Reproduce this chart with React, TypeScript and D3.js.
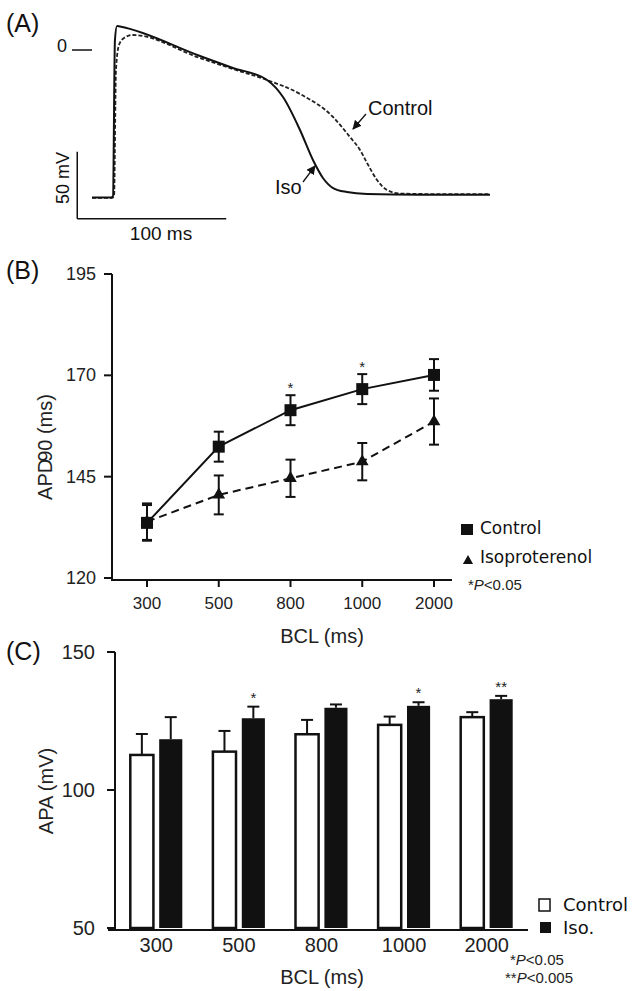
import React from "react";
import * as d3 from "d3";

// ---------- Panel A: action potential traces (time ms, voltage mV) ----------
const apTimeIso = [-14.1, -1.3, 0, 1.3, 2.7, 4.7, 58.4, 80.5, 103.4, 114.1, 125.5, 134.2, 140.9, 147.7, 157, 170.5, 206, 253];
const apVoltIso = [-110, -110, -109, 7.5, 17.9, 17.5, -4.5, -13.4, -22.4, -35.1, -59.7, -82.1, -95.5, -103, -106, -107.5, -108, -108];
const apTimeCtrl = [-14.1, -0.7, 0.7, 2, 4, 7.4, 13.4, 58.4, 80.5, 103.4, 125.5, 147.7, 159, 165.8, 170.5, 177.2, 183.9, 192.6, 212.8, 253];
const apVoltCtrl = [-110.4, -110.4, -109, -14.9, 3.7, 9, 11.2, -6, -14.2, -22.4, -32.8, -50, -64.9, -74.6, -84.3, -97, -104.5, -107.1, -107.5, -107.5];

// ---------- Panel B: APD90 ----------
const bclLabels = ["300", "500", "800", "1000", "2000"];
const apdControl = [133.6, 152.4, 161.4, 166.6, 170.1];
const apdControlErr = [4.4, 3.7, 3.7, 3.7, 3.9];
const apdIso = [133.9, 140.5, 144.6, 148.7, 158.6];
const apdIsoErr = [4.5, 4.8, 4.6, 4.6, 5.7];
const apdSig = ["", "", "*", "*", ""];
const apdTicks = [120, 145, 170, 195];

// ---------- Panel C: APA ----------
const apaControl = [112.7, 113.9, 120.2, 123.6, 126.4];
const apaControlErr = [7.6, 7.5, 5.2, 3.0, 1.8];
const apaIso = [118.4, 126.0, 129.8, 130.5, 132.9];
const apaIsoErr = [8.0, 4.2, 1.2, 1.3, 1.2];
const apaSig = ["", "*", "", "*", "**"];
const apaTicks = [50, 100, 150];

const SANS = "'Liberation Sans', Arial, Helvetica, sans-serif";
const VERD = "'DejaVu Sans', Verdana, sans-serif";

export default function App() {
  // Panel A scales
  const xA = d3.scaleLinear().domain([0, 100]).range([113, 262]);
  const yA = d3.scaleLinear().domain([0, -50]).range([50, 117]);
  const lineA = d3
    .line<[number, number]>()
    .x((d) => xA(d[0]))
    .y((d) => yA(d[1]))
    .curve(d3.curveMonotoneX);
  const isoPts: [number, number][] = apTimeIso.map((t, i) => [t, apVoltIso[i]]);
  const ctrlPts: [number, number][] = apTimeCtrl.map((t, i) => [t, apVoltCtrl[i]]);

  // Panel B scales
  const xB = d3.scalePoint<string>().domain(bclLabels).range([147, 434]);
  const yB = d3.scaleLinear().domain([120, 195]).range([578, 274]);
  const lineB = d3
    .line<number>()
    .x((_, i) => xB(bclLabels[i]) as number)
    .y((d) => yB(d));

  // Panel C scales
  const xC = d3.scaleBand<string>().domain(bclLabels).range([115, 528]);
  const sub = d3.scaleBand<string>().domain(["c", "i"]).range([-26, 26]).paddingInner(0.2);
  const yC = d3.scaleLinear().domain([50, 150]).range([928, 652]);
  const bw = sub.bandwidth();

  const tri = d3.symbol().type(d3.symbolTriangle).size(70)() as string;

  return (
    <svg
      width={638}
      height={991}
      style={{ position: "absolute", left: 0, top: 0, background: "#fff" }}
      fontFamily={SANS}
    >
      <defs>
        <marker id="arr" viewBox="0 0 10 10" refX="9" refY="5" markerWidth="7" markerHeight="7" orient="auto">
          <path d="M0,0 L10,5 L0,10 z" fill="#111" />
        </marker>
      </defs>

      {/* ================= Panel A ================= */}
      <text x={6} y={32} fontSize={25} fill="#111">(A)</text>
      <text x={57} y={52} fontSize={18} fill="#111">0</text>
      <line x1={72} x2={92} y1={yA(0)} y2={yA(0)} stroke="#111" strokeWidth={1.5} />
      <path d={lineA(ctrlPts) as string} fill="none" stroke="#222" strokeWidth={1.8} strokeDasharray="4,2" />
      <path d={lineA(isoPts) as string} fill="none" stroke="#111" strokeWidth={2} />
      {/* scale bars */}
      <line x1={xA(-24)} x2={xA(-24)} y1={yA(-76)} y2={yA(-126)} stroke="#111" strokeWidth={1.5} />
      <line x1={xA(-24)} x2={xA(76)} y1={yA(-126)} y2={yA(-126)} stroke="#111" strokeWidth={1.5} />
      <text x={0} y={0} fontSize={18} fill="#111" textAnchor="middle" transform={`translate(69,178) rotate(-90)`}>50 mV</text>
      <text x={161} y={240} fontSize={19} fill="#111" textAnchor="middle">100 ms</text>
      {/* labels */}
      <text x={368} y={115} fontSize={20} fill="#111">Control</text>
      <line x1={366} y1={114} x2={353} y2={129} stroke="#111" strokeWidth={1.3} markerEnd="url(#arr)" />
      <text x={275} y={194} fontSize={20} fill="#111">Iso</text>
      <line x1={303} y1={182} x2={315} y2={166} stroke="#111" strokeWidth={1.3} markerEnd="url(#arr)" />

      {/* ================= Panel B ================= */}
      <text x={6} y={279} fontSize={25} fill="#111">(B)</text>
      <line x1={112} x2={112} y1={yB(195)} y2={580} stroke="#111" strokeWidth={2} />
      <line x1={111} x2={452} y1={580} y2={580} stroke="#111" strokeWidth={2} />
      {apdTicks.map((t) => (
        <g key={t}>
          <line x1={104} x2={112} y1={yB(t)} y2={yB(t)} stroke="#111" strokeWidth={2} />
          <text x={96} y={yB(t) + 6} fontSize={18} textAnchor="end" fill="#222">{t}</text>
        </g>
      ))}
      {bclLabels.map((l) => (
        <g key={l}>
          <line x1={xB(l)} x2={xB(l)} y1={580} y2={587} stroke="#111" strokeWidth={2} />
          <text x={xB(l)} y={609} fontSize={17} textAnchor="middle" fill="#222">{l}</text>
        </g>
      ))}
      <text x={322} y={643} fontSize={20} textAnchor="middle" fill="#222">BCL (ms)</text>
      <text transform="translate(52,447) rotate(-90)" fontSize={20} textAnchor="middle" fill="#222">
        APD<tspan fontSize={20} dx={-3}>90</tspan> (ms)
      </text>

      {/* iso series */}
      <path d={lineB(apdIso) as string} fill="none" stroke="#111" strokeWidth={2} strokeDasharray="8,5" />
      {apdIso.map((v, i) => {
        const x = xB(bclLabels[i]) as number;
        return (
          <g key={"i" + i}>
            <line x1={x} x2={x} y1={yB(v - apdIsoErr[i])} y2={yB(v + apdIsoErr[i])} stroke="#111" strokeWidth={2} />
            <line x1={x - 5} x2={x + 5} y1={yB(v + apdIsoErr[i])} y2={yB(v + apdIsoErr[i])} stroke="#111" strokeWidth={2} />
            <line x1={x - 5} x2={x + 5} y1={yB(v - apdIsoErr[i])} y2={yB(v - apdIsoErr[i])} stroke="#111" strokeWidth={2} />
            <path d={tri} transform={`translate(${x},${yB(v)})`} fill="#111" />
          </g>
        );
      })}
      {/* control series */}
      <path d={lineB(apdControl) as string} fill="none" stroke="#111" strokeWidth={2} />
      {apdControl.map((v, i) => {
        const x = xB(bclLabels[i]) as number;
        const top = yB(v + apdControlErr[i]);
        return (
          <g key={"c" + i}>
            <line x1={x} x2={x} y1={yB(v - apdControlErr[i])} y2={top} stroke="#111" strokeWidth={2} />
            <line x1={x - 5} x2={x + 5} y1={top} y2={top} stroke="#111" strokeWidth={2} />
            <line x1={x - 5} x2={x + 5} y1={yB(v - apdControlErr[i])} y2={yB(v - apdControlErr[i])} stroke="#111" strokeWidth={2} />
            <rect x={x - 6} y={yB(v) - 6} width={12} height={12} fill="#111" />
            {apdSig[i] && (
              <text x={x} y={top - 2} fontSize={15} textAnchor="middle" fill="#222">{apdSig[i]}</text>
            )}
          </g>
        );
      })}
      {/* legend B */}
      <rect x={461} y={524} width={12} height={11} fill="#111" />
      <text x={480} y={534} fontSize={17} fontFamily={VERD} fill="#111">Control</text>
      <path d={d3.symbol().type(d3.symbolTriangle).size(45)() as string} transform="translate(468,561)" fill="#111" />
      <text x={480} y={563} fontSize={17} fontFamily={VERD} fill="#111">Isoproterenol</text>
      <text x={468} y={590} fontSize={15} fill="#222">*<tspan fontStyle="italic">P</tspan>&lt;0.05</text>

      {/* ================= Panel C ================= */}
      <text x={6} y={660} fontSize={25} fill="#111">(C)</text>
      {bclLabels.map((l, i) => {
        const c = xC(l) as number;
        const cx = c + xC.bandwidth() / 2;
        const xc = cx + (sub("c") as number);
        const xi = cx + (sub("i") as number);
        const cTop = yC(apaControl[i]);
        const cErr = yC(apaControl[i] + apaControlErr[i]);
        const iTop = yC(apaIso[i]);
        const iErr = yC(apaIso[i] + apaIsoErr[i]);
        return (
          <g key={l}>
            <line x1={xc + bw / 2} x2={xc + bw / 2} y1={cTop} y2={cErr} stroke="#111" strokeWidth={2} />
            <line x1={xc + bw / 2 - 6} x2={xc + bw / 2 + 6} y1={cErr} y2={cErr} stroke="#111" strokeWidth={2} />
            <rect x={xc} y={cTop} width={bw} height={yC(50) - cTop} fill="#fff" stroke="#111" strokeWidth={2.5} />
            <line x1={xi + bw / 2} x2={xi + bw / 2} y1={iTop} y2={iErr} stroke="#111" strokeWidth={2} />
            <line x1={xi + bw / 2 - 6} x2={xi + bw / 2 + 6} y1={iErr} y2={iErr} stroke="#111" strokeWidth={2} />
            <rect x={xi} y={iTop} width={bw} height={yC(50) - iTop} fill="#111" />
            {apaSig[i] && (
              <text x={xi + bw / 2} y={iErr - 4} fontSize={15} textAnchor="middle" fill="#222">{apaSig[i]}</text>
            )}
            <text x={cx} y={952} fontSize={20} textAnchor="middle" fill="#222">{l}</text>
          </g>
        );
      })}
      <line x1={115} x2={115} y1={yC(150)} y2={931} stroke="#111" strokeWidth={2} />
      <line x1={108} x2={528} y1={930} y2={930} stroke="#111" strokeWidth={2} />
      {apaTicks.map((t) => (
        <g key={t}>
          <line x1={107} x2={115} y1={yC(t)} y2={yC(t)} stroke="#111" strokeWidth={2} />
          <text x={95} y={yC(t) + 7} fontSize={20} textAnchor="end" fill="#222">{t}</text>
        </g>
      ))}
      <text x={322} y={984} fontSize={20} textAnchor="middle" fill="#222">BCL (ms)</text>
      <text transform="translate(53,791) rotate(-90)" fontSize={20} textAnchor="middle" fill="#222">APA (mV)</text>
      {/* legend C */}
      <rect x={539} y={899} width={11} height={12} fill="#fff" stroke="#111" strokeWidth={1.5} />
      <text x={563} y={911} fontSize={18} fontFamily={VERD} fill="#111">Control</text>
      <rect x={540} y={922} width={11} height={11} fill="#111" />
      <text x={563} y={934} fontSize={18} fontFamily={VERD} fill="#111">Iso.</text>
      <text x={510} y={965} fontSize={15} fill="#222">*<tspan fontStyle="italic">P</tspan>&lt;0.05</text>
      <text x={505} y={983} fontSize={15} fill="#222">**<tspan fontStyle="italic">P</tspan>&lt;0.005</text>
    </svg>
  );
}
